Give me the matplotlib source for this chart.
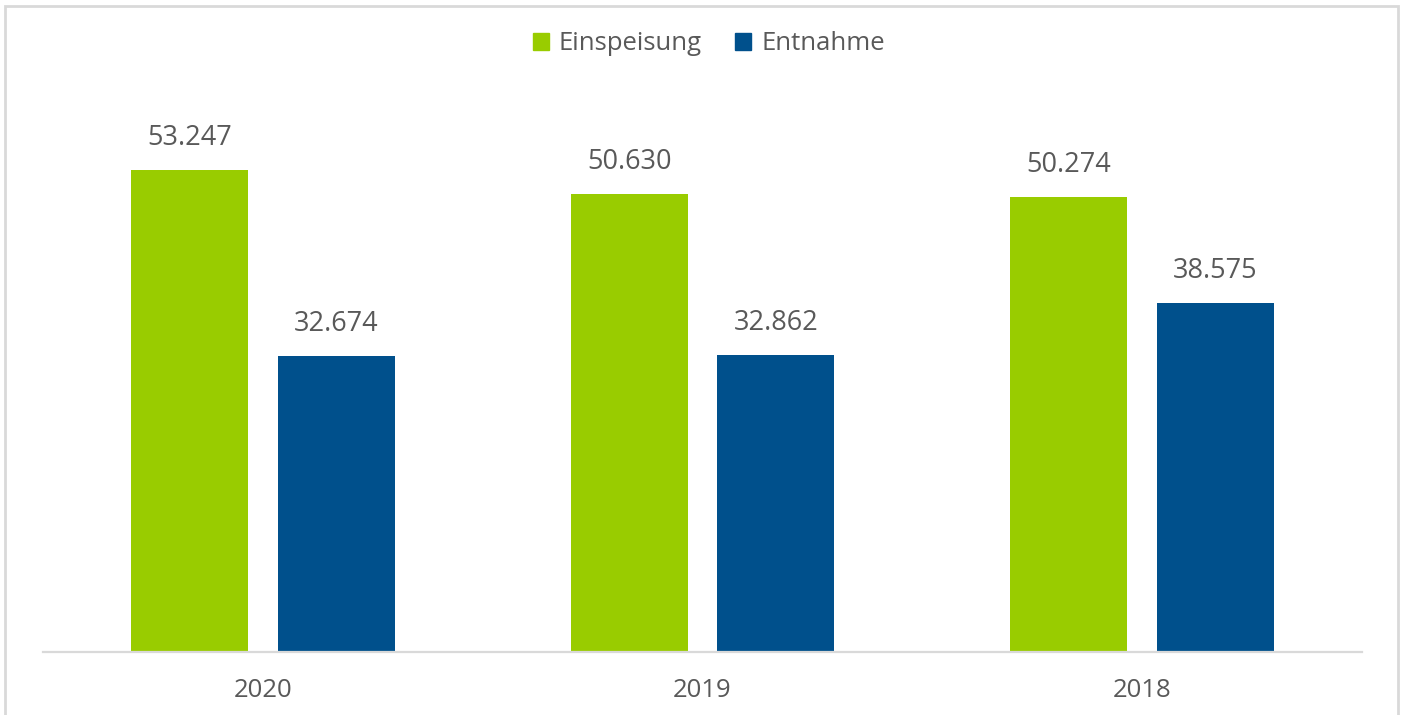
import matplotlib
matplotlib.use("Agg")
import matplotlib.pyplot as plt
import numpy as np
from matplotlib.patches import Rectangle, Patch

years = ["2020", "2019", "2018"]
einspeisung = [53.247, 50.630, 50.274]
entnahme = [32.674, 32.862, 38.575]
series_names = ["Einspeisung", "Entnahme"]
colors = ["#99CC00", "#00508C"]

plt.rcParams['font.family'] = ['Open Sans', 'DejaVu Sans']
text_color = "#595959"

W, H = 1403, 715
fig = plt.figure(figsize=(W / 100, H / 100), dpi=100)
ax = fig.add_axes([43 / W, 1 - 652 / H, (1362 - 43) / W, (652 - 109) / H])

x = np.arange(len(years))
bw = 0.266
off = 0.167
for vals, c, o in [(einspeisung, colors[0], -off), (entnahme, colors[1], off)]:
    bars = ax.bar(x + o, vals, width=bw, color=c, zorder=2)
    for b, v in zip(bars, vals):
        ax.annotate(f"{v:.3f}", (b.get_x() + b.get_width() / 2, v),
                    xytext=(0, 13), textcoords="offset points",
                    ha="center", va="bottom", fontsize=19.5, color=text_color)

ax.set_xlim(-0.5, len(years) - 0.5)
ax.set_ylim(0, 60)
ax.set_xticks(x)
ax.set_xticklabels(years, fontsize=18.5, color=text_color)
ax.tick_params(axis="x", length=0, pad=19)
ax.set_yticks([])
for s in ["top", "right", "left"]:
    ax.spines[s].set_visible(False)
ax.spines["bottom"].set_color("#D9D9D9")
ax.spines["bottom"].set_linewidth(1.6)
ax.spines["bottom"].set_zorder(3)

handles = [Patch(facecolor=c, edgecolor=c) for c in colors]
leg = fig.legend(handles, series_names, loc="center", bbox_to_anchor=(709 / W, 1 - 44 / H),
                 ncol=2, frameon=False, fontsize=18.5, handlelength=0.6, handleheight=0.6,
                 handletextpad=0.4, columnspacing=1.3)
for t in leg.get_texts():
    t.set_color(text_color)

fig.patches.append(Rectangle((5 / W, -0.05), (1398 - 5) / W, 1.05 - 6 / H,
                             transform=fig.transFigure, fill=False,
                             edgecolor="#D9D9D9", linewidth=2))

fig.savefig("out.png", dpi=100)
